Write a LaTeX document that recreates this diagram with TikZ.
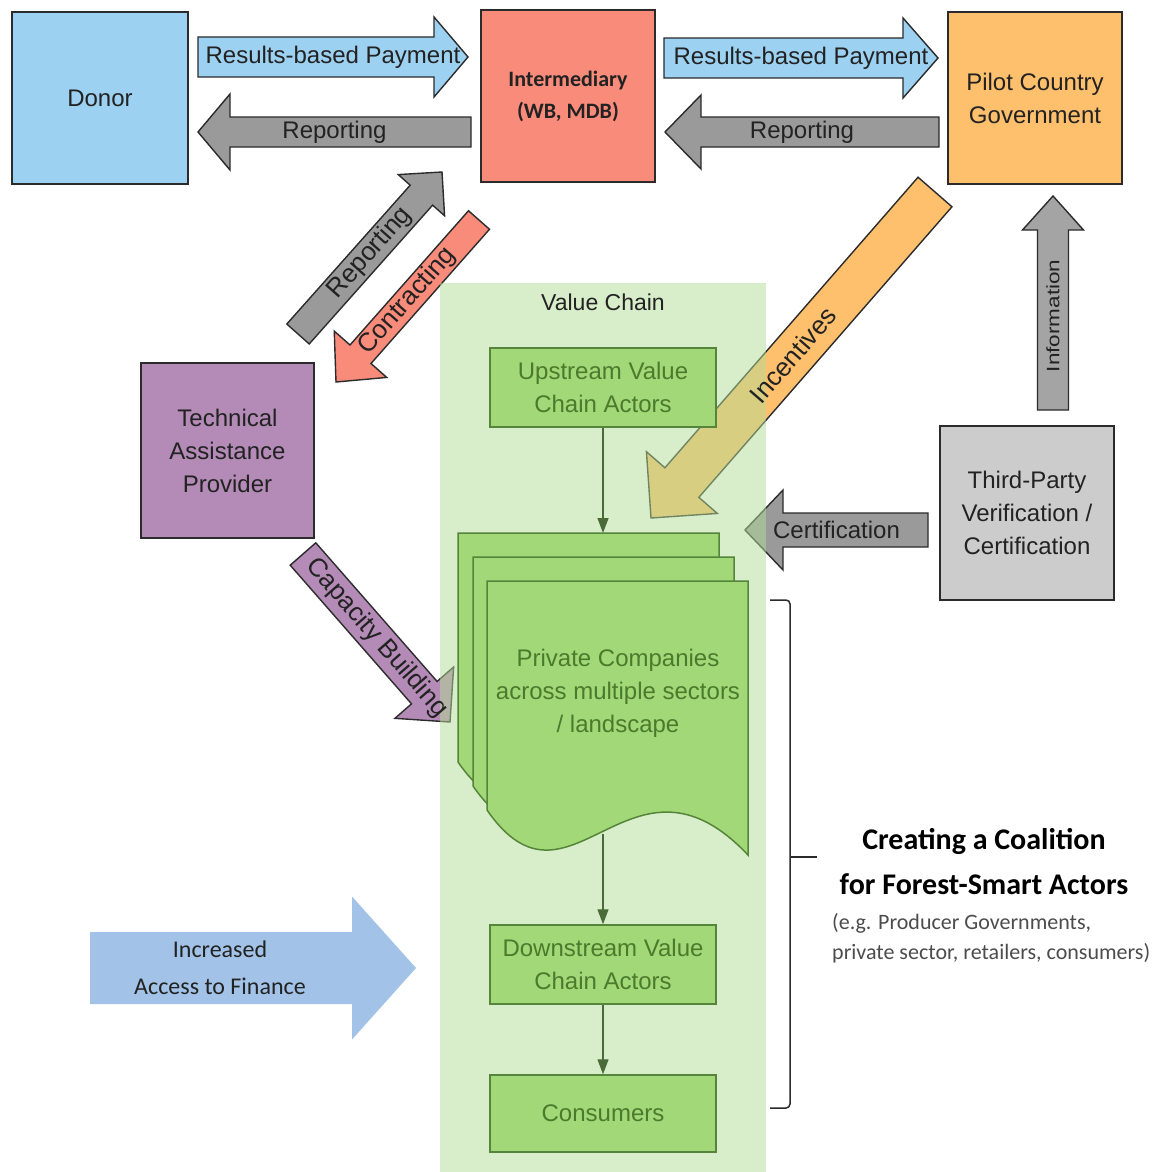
\documentclass[tikz,border=0pt]{standalone}
\usepackage{fontspec}
\setmainfont{Liberation Sans}
\newfontfamily\carlito{Carlito}
\usetikzlibrary{calc,arrows.meta}
\definecolor{cDonor}{HTML}{9DD1F1}
\definecolor{cInter}{HTML}{F98B7B}
\definecolor{cPilot}{HTML}{FFC06E}
\definecolor{cTA}{HTML}{B38BB6}
\definecolor{cThird}{HTML}{CCCCCC}
\definecolor{cGrayArr}{HTML}{9A9A9A}
\definecolor{cPanel}{RGB}{179,221,151}
\definecolor{cGbox}{HTML}{A3D878}
\definecolor{cGline}{HTML}{55853A}
\definecolor{cGtext}{HTML}{4B7A2C}
\definecolor{cGarrow}{HTML}{4A6A3A}
\definecolor{cFin}{HTML}{A2C3E7}
\definecolor{cLine}{HTML}{2B2B2B}
\definecolor{cText}{HTML}{222222}
\newcommand\fsMain{\fontsize{24}{33}\selectfont}
\newcommand\fsDiag{\fontsize{26}{30}\selectfont}
% #1 style, #2 tail coordinate, #3 tip coordinate, #4 shaft half width, #5 head half width, #6 head length
\newcommand\blockarrow[6]{%
  \coordinate (#2-b) at ($(#3)!#6!(#2)$);
  \path[#1] ($(#2)!#4!90:(#3)$) -- ($(#2-b)!#4!90:(#3)$) -- ($(#2-b)!#5!90:(#3)$) -- (#3)
     -- ($(#2-b)!#5!-90:(#3)$) -- ($(#2-b)!#4!-90:(#3)$) -- ($(#2)!#4!-90:(#3)$) -- cycle;}
\newcommand\docshape[2]{%
  \path[docst, shift={(#1,#2)}] (487,581) -- (748,581) -- (748,855)
     .. controls (630,730) and (570,930) .. (487,810) -- cycle;}
\begin{document}
\begin{tikzpicture}[x=1pt,y=-1pt,
  box/.style={draw=cLine, line width=1.6pt, align=center, font=\fsMain, text=cText, inner sep=0pt},
  gbox/.style={draw=cGline, line width=1.5pt, fill=cGbox, align=center, font=\fsMain, text=cGtext,
     inner sep=0pt, minimum width=226pt},
  barrow/.style={draw=cLine, line width=1.4pt, line join=miter},
  alabel/.style={font=\fsMain, text=cText, inner sep=0pt},
  dlabel/.style={font=\fsDiag, text=cText, inner sep=0pt},
  docst/.style={draw=cGline, line width=1.5pt, fill=cGbox},
  garrow/.style={draw=cGarrow, line width=1.3pt, -{Triangle[length=15pt,width=11pt]}}]
\useasboundingbox (0,0) rectangle (1166,1172);
\fill[white] (0,0) rectangle (1166,1172);

% main boxes
\node[box, fill=cDonor, minimum width=176pt, minimum height=172pt] (donor) at (100,98) {Donor};
\node[box, fill=cInter, minimum width=174pt, minimum height=172pt,
  font=\carlito\bfseries\fontsize{22}{32}\selectfont] (inter) at (568,96) {Intermediary\\(WB, MDB)};
\node[box, fill=cPilot, minimum width=174pt, minimum height=172pt] (pilot) at (1035,98) {Pilot Country\\Government};
\node[box, fill=cTA, minimum width=173pt, minimum height=175pt] (ta) at (227.5,450.5) {Technical\\Assistance\\Provider};
\node[box, fill=cThird, minimum width=174pt, minimum height=174pt] (third) at (1027,513) {Third-Party\\Verification /\\Certification};

% arrow end points
\coordinate (rpA) at (198,57);  \coordinate (rpB) at (468,57);
\coordinate (reA) at (471,132); \coordinate (reB) at (198,132);
\coordinate (rqA) at (664,58);  \coordinate (rqB) at (938,58);
\coordinate (rfA) at (939,132); \coordinate (rfB) at (665,132);
\coordinate (rdA) at (298,334); \coordinate (rdB) at (442,172);
\coordinate (coA) at (479,220); \coordinate (coB) at (336,382);
\coordinate (inA) at (935,192); \coordinate (inB) at (651,518);
\coordinate (caA) at (303,554); \coordinate (caB) at (450,722);
\coordinate (ifA) at (1053,410); \coordinate (ifB) at (1053,196);
\coordinate (ceA) at (928,530); \coordinate (ceB) at (745,530);
\coordinate (fiA) at (90,968);  \coordinate (fiB) at (416,968);

% block arrows
\blockarrow{barrow, fill=cDonor}{rpA}{rpB}{20pt}{40pt}{34pt}
\blockarrow{barrow, fill=cGrayArr}{reA}{reB}{15pt}{38pt}{32pt}
\blockarrow{barrow, fill=cDonor}{rqA}{rqB}{20pt}{40pt}{35pt}
\blockarrow{barrow, fill=cGrayArr}{rfA}{rfB}{15pt}{37pt}{36pt}
\blockarrow{barrow, fill=cGrayArr}{rdA}{rdB}{15pt}{31pt}{31pt}
\blockarrow{barrow, fill=cInter}{coA}{coB}{14pt}{35pt}{37pt}
\blockarrow{barrow, fill=cPilot}{inA}{inB}{22.5pt}{47pt}{47pt}
\blockarrow{barrow, fill=cTA}{caA}{caB}{17pt}{39pt}{39pt}
\blockarrow{barrow, fill=cGrayArr!90!white}{ifA}{ifB}{15.5pt}{30.5pt}{34pt}
\blockarrow{barrow, fill=cGrayArr}{ceA}{ceB}{17pt}{40pt}{38pt}
\blockarrow{fill=cFin}{fiA}{fiB}{36pt}{71.5pt}{64pt}

% value chain panel
\fill[cPanel, fill opacity=0.5] (440,283) rectangle (766,1172);
\node[font=\fontsize{23}{28}\selectfont, text=cText] (vc) at (603,302) {Value Chain};

% arrow labels
\path (rpA) -- (rpB) node[midway, alabel] {Results-based Payment};
\path (reA) -- (reB) node[midway, alabel] {Reporting};
\path (rqA) -- (rqB) node[midway, alabel] {Results-based Payment};
\path (rfA) -- (rfB) node[midway, alabel] {Reporting};
\path (rdA) -- (rdB) node[midway, sloped, dlabel] {Reporting};
\path (coA) -- (coB) node[midway, sloped, dlabel] {Contracting};
\path (inA) -- (inB) node[midway, sloped, dlabel] {Incentives};
\path (caA) -- (caB) node[midway, sloped, dlabel] {Capacity Building};
\path (ifA) -- (ifB) node[pos=0.44, sloped, inner sep=0pt, text=cText,
   font=\fontsize{18}{20}\selectfont] {\scalebox{1.25}[1]{Information}};
\path (ceA) -- (ceB) node[midway, alabel] {Certification};
\node[font=\carlito\fontsize{24}{37}\selectfont, align=center, text=cText] (fin) at (220,968) {Increased\\Access to Finance};

% value chain content
\node[gbox, minimum height=79pt] (up) at (603,387.5) {Upstream Value\\Chain Actors};
\docshape{-29}{-48}
\docshape{-14}{-24}
\docshape{0}{0}
\node[align=center, font=\fsMain, text=cGtext, inner sep=0pt] (pc) at (618,693)
  {Private Companies\\across multiple sectors\\/ landscape};
\node[gbox, minimum height=79pt] (down) at (603,964.5) {Downstream Value\\Chain Actors};
\node[gbox, minimum height=77pt] (cons) at (603,1113.5) {Consumers};
\coordinate (docTop) at (603,533);
\coordinate (docBot) at (603,834);
\draw[garrow] (up.south) -- (docTop);
\draw[garrow] (docBot) -- (down.north);
\draw[garrow] (down.south) -- (cons.north);

% bracket and coalition text
\draw[cLine, line width=1.5pt, rounded corners=4pt] (770,600) -- (790,600) -- (790,1108) -- (770,1108);
\coordinate (brMid) at (790,857);
\coordinate (brTip) at (817,857);
\draw[cLine, line width=1.5pt] (brMid) -- (brTip);
\node[font=\carlito\bfseries\fontsize{30}{45}\selectfont, align=center, text=black] (coal) at (984,862)
  {Creating a Coalition\\for Forest-Smart Actors};
\node[font=\carlito\fontsize{22}{30}\selectfont, align=left, anchor=west, text=black!70, inner sep=0pt] (eg) at (832,938)
  {(e.g. Producer Governments,\\private sector, retailers, consumers)};
\end{tikzpicture}
\end{document}
